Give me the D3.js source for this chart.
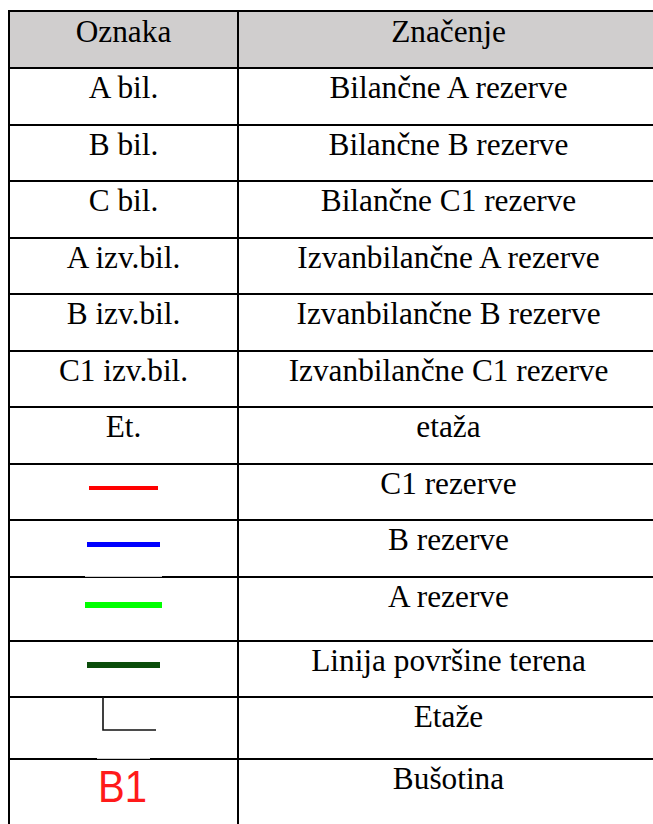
<!DOCTYPE html>
<html>
<head>
<meta charset="utf-8">
<script src="https://cdn.jsdelivr.net/npm/d3@7"></script>
<style>
  html, body { margin: 0; padding: 0; background: #ffffff; }
  svg { display: block; }
</style>
</head>
<body>
<svg id="chart" width="653" height="824"></svg>
<script>
// ---- data ----
const headers = ["Oznaka", "Značenje"];
const codes = ["A bil.", "B bil.", "C bil.", "A izv.bil.", "B izv.bil.", "C1 izv.bil.", "Et.", "", "", "", "", "", "B1"];
const meanings = ["Bilančne A rezerve", "Bilančne B rezerve", "Bilančne C1 rezerve",
  "Izvanbilančne A rezerve", "Izvanbilančne B rezerve", "Izvanbilančne C1 rezerve",
  "etaža", "C1 rezerve", "B rezerve", "A rezerve", "Linija površine terena", "Etaže", "Bušotina"];
const symbols = [null, null, null, null, null, null, null, "red", "blue", "green", "terrain", "etaza", "bore"];

// ---- layout (not data) ----
const rowHeights = [57, 57, 56, 57, 56, 57, 56, 57, 56, 57, 64, 56, 62, 80];
const tableTop = 11, xLeft = 9, xDiv = 238, xRight = 659;
const symbolStyle = {
  red: { color: "#ff0000", w: 4, x0: 89, x1: 158 },
  blue: { color: "#0000ff", w: 5, x0: 87, x1: 160 },
  green: { color: "#00ff00", w: 6, x0: 85, x1: 162 },
  terrain: { color: "#0b4d0b", w: 6, x0: 87, x1: 160 }
};

const svg = d3.select("#chart");
const bounds = [tableTop];
rowHeights.forEach(h => bounds.push(bounds[bounds.length - 1] + h));
const y = d3.scaleOrdinal().domain(d3.range(rowHeights.length)).range(bounds);
const x = d3.scaleOrdinal().domain([0, 1, 2]).range([xLeft, xDiv, xRight]);
const colCenter = i => (x(i) + x(i + 1)) / 2;

// header background
svg.append("rect")
  .attr("x", x(0)).attr("y", y(0))
  .attr("width", x(2) - x(0)).attr("height", y(1) - y(0))
  .attr("fill", "#d0cece");

const font = "Liberation Serif, Times New Roman, serif";

// header text
svg.selectAll("text.hdr").data(headers).join("text")
  .attr("class", "hdr")
  .attr("x", (d, i) => colCenter(i))
  .attr("y", y(0) + 31)
  .attr("text-anchor", "middle")
  .style("font-family", font).style("font-size", "31.3px")
  .attr("fill", "#000")
  .text(d => d);

const rows = meanings.map((m, i) => ({ code: codes[i], meaning: m, sym: symbols[i], r: i + 1 }));

// grid lines
const hLines = d3.range(rowHeights.length);
svg.selectAll("line.h").data(hLines).join("line")
  .attr("class", "h")
  .attr("x1", x(0) - 1).attr("x2", x(2))
  .attr("y1", d => y(d)).attr("y2", d => y(d))
  .attr("stroke", "#000").attr("stroke-width", 2);
svg.selectAll("line.v").data([0, 1, 2]).join("line")
  .attr("class", "v")
  .attr("x1", d => x(d)).attr("x2", d => x(d))
  .attr("y1", y(0) - 1).attr("y2", bounds[bounds.length - 1])
  .attr("stroke", "#000").attr("stroke-width", 2);

// code column text
svg.selectAll("text.code").data(rows.filter(d => !d.sym)).join("text")
  .attr("class", "code")
  .attr("x", colCenter(0))
  .attr("y", d => y(d.r) + 30)
  .attr("text-anchor", "middle")
  .style("font-family", font).style("font-size", "31.3px")
  .attr("fill", "#000")
  .text(d => d.code);

// meaning column text
svg.selectAll("text.mean").data(rows).join("text")
  .attr("class", "mean")
  .attr("x", colCenter(1))
  .attr("y", d => y(d.r) + 30)
  .attr("text-anchor", "middle")
  .style("font-family", font).style("font-size", "31.3px")
  .attr("fill", "#000")
  .text(d => d.meaning);

// line symbols
const lineRows = rows.filter(d => symbolStyle[d.sym]);
svg.selectAll("line.sym").data(lineRows).join("line")
  .attr("class", "sym")
  .attr("x1", d => symbolStyle[d.sym].x0).attr("x2", d => symbolStyle[d.sym].x1)
  .attr("y1", d => (y(d.r) + y(d.r + 1)) / 2 - 4)
  .attr("y2", d => (y(d.r) + y(d.r + 1)) / 2 - 4)
  .attr("stroke", d => symbolStyle[d.sym].color)
  .attr("stroke-width", d => symbolStyle[d.sym].w);

// image white patches slightly over top borders (green, B1)
rows.filter(d => d.sym === "green" || d.sym === "bore").forEach(d => {
  const s = d.sym === "green" ? [85, 162] : [97, 150];
  svg.append("rect").attr("x", s[0]).attr("y", y(d.r) - 1)
    .attr("width", s[1] - s[0]).attr("height", 0.8).attr("fill", "#fff");
});

// etaže symbol
rows.filter(d => d.sym === "etaza").forEach(d => {
  const t = y(d.r);
  svg.append("path")
    .attr("d", `M103,${t} V${t + 33} H156`)
    .attr("fill", "none").attr("stroke", "#111").attr("stroke-width", 1.6);
});

// bušotina symbol
rows.filter(d => d.sym === "bore").forEach(d => {
  svg.append("text")
    .attr("x", 98).attr("y", y(d.r) + 43)
    .style("font-family", "Liberation Sans, Arial, sans-serif")
    .style("font-size", "44px")
    .attr("textLength", 49).attr("lengthAdjust", "spacingAndGlyphs")
    .attr("fill", "#ff1a1a")
    .text(d.code);
});
</script>
</body>
</html>
